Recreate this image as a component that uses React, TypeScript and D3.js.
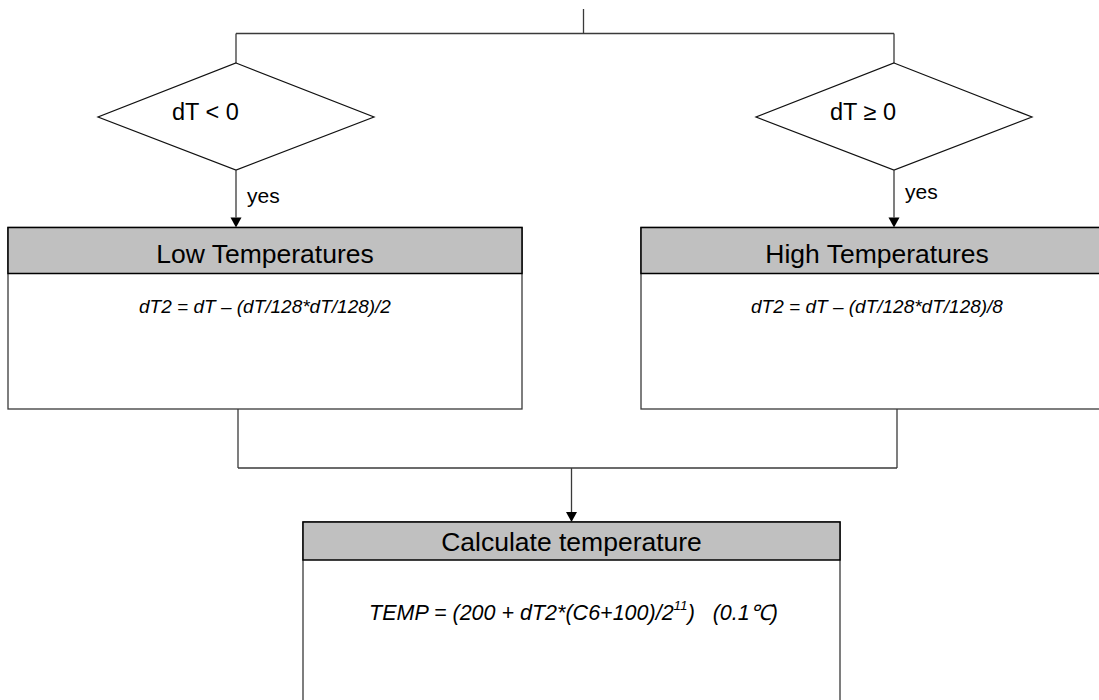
import { FC } from 'react';
import * as d3 from 'd3';

// Decision nodes (top row)
const decisionLabels = ['dT < 0', 'dT \u2265 0'];
const branchLabels = ['yes', 'yes'];

// Process nodes (middle row)
const processTitles = ['Low Temperatures', 'High Temperatures'];
const processFormulas = [
  'dT2 = dT \u2013 (dT/128*dT/128)/2',
  'dT2 = dT \u2013 (dT/128*dT/128)/8',
];

// Final node
const finalTitle = 'Calculate temperature';
const finalFormula = { main: 'TEMP = (200 + dT2*(C6+100)/2', sup: '11', tail: ')   (0.1\u2103)' };

// Layout (pixels)
const W = 1099;
const H = 700;
const layout = {
  trunkX: 583.5,
  trunkTop: 9,
  busY: 33.5,
  decisionX: [236, 894],
  decisionTextX: [172, 830],
  decisionTop: 63,
  decisionMid: 117,
  decisionBottom: 170,
  decisionHalfW: 138,
  yesY: [203, 199],
  boxX: [8, 641],
  boxW: [514, 472],
  boxTop: 227.5,
  headerH: 46,
  boxBottom: 409,
  outX: [238, 897],
  mergeY: 468,
  finalX: 303,
  finalW: 537,
  finalTop: 522,
  finalHeaderH: 38,
};

const font = '"Liberation Sans", Arial, Helvetica, sans-serif';
const lineColor = '#3a3a3a';
const headerFill = '#c0c0c0';

const Arrow: FC<{ x: number; y1: number; y2: number }> = ({ x, y1, y2 }) => {
  const head = 10;
  const half = 5.5;
  return (
    <g>
      <line x1={x} y1={y1} x2={x} y2={y2 - head} stroke={lineColor} strokeWidth={1.3} />
      <path d={`M${x - half},${y2 - head}L${x + half},${y2 - head}L${x},${y2}Z`} fill="#000" />
    </g>
  );
};

export default function App() {
  const diamond = d3.line<[number, number]>();
  const L = layout;

  return (
    <svg
      width={W}
      height={H}
      style={{ position: 'absolute', left: 0, top: 0, background: '#fff' }}
      fontFamily={font}
    >
      {/* incoming trunk and split bus */}
      <line x1={L.trunkX} y1={L.trunkTop} x2={L.trunkX} y2={L.busY} stroke={lineColor} strokeWidth={1.3} />
      <line x1={L.decisionX[0]} y1={L.busY} x2={L.decisionX[1]} y2={L.busY} stroke={lineColor} strokeWidth={1.3} />

      {decisionLabels.map((label, i) => {
        const cx = L.decisionX[i];
        const pts: [number, number][] = [
          [cx, L.decisionTop],
          [cx + L.decisionHalfW, L.decisionMid],
          [cx, L.decisionBottom],
          [cx - L.decisionHalfW, L.decisionMid],
        ];
        return (
          <g key={label}>
            <line x1={cx} y1={L.busY} x2={cx} y2={L.decisionTop} stroke={lineColor} strokeWidth={1.3} />
            <path d={diamond(pts) + 'Z'} fill="#fff" stroke="#111" strokeWidth={1.2} />
            <text x={L.decisionTextX[i]} y={L.decisionMid + 3} fontSize={23.5} fill="#000">
              {label}
            </text>
            <Arrow x={cx} y1={L.decisionBottom} y2={L.boxTop} />
            <text x={cx + 11} y={L.yesY[i]} fontSize={21} fill="#000">
              {branchLabels[i]}
            </text>
          </g>
        );
      })}

      {processTitles.map((title, i) => {
        const x = L.boxX[i];
        const w = L.boxW[i];
        const cx = x + w / 2;
        return (
          <g key={title}>
            <rect x={x} y={L.boxTop} width={w} height={L.boxBottom - L.boxTop} fill="#fff" stroke={lineColor} strokeWidth={1.3} />
            <rect x={x} y={L.boxTop} width={w} height={L.headerH} fill={headerFill} stroke="#000" strokeWidth={1.5} />
            <text x={cx} y={L.boxTop + 35} fontSize={26.5} textAnchor="middle" fill="#000">
              {title}
            </text>
            <text x={cx} y={L.boxTop + 85} fontSize={19} fontStyle="italic" textAnchor="middle" fill="#000">
              {processFormulas[i]}
            </text>
            <line x1={L.outX[i]} y1={L.boxBottom} x2={L.outX[i]} y2={L.mergeY} stroke={lineColor} strokeWidth={1.3} />
          </g>
        );
      })}

      {/* merge bus */}
      <line x1={L.outX[0]} y1={L.mergeY} x2={L.outX[1]} y2={L.mergeY} stroke={lineColor} strokeWidth={1.3} />
      <Arrow x={L.finalX + L.finalW / 2} y1={L.mergeY} y2={L.finalTop} />

      {/* final node */}
      <rect x={L.finalX} y={L.finalTop} width={L.finalW} height={H + 20 - L.finalTop} fill="#fff" stroke={lineColor} strokeWidth={1.3} />
      <rect x={L.finalX} y={L.finalTop} width={L.finalW} height={L.finalHeaderH} fill={headerFill} stroke="#000" strokeWidth={1.5} />
      <text x={L.finalX + L.finalW / 2} y={L.finalTop + 29} fontSize={26.5} textAnchor="middle" fill="#000">
        {finalTitle}
      </text>
      <text
        x={L.finalX + L.finalW / 2 + 2}
        y={L.finalTop + 98}
        fontSize={21.5}
        fontStyle="italic"
        textAnchor="middle"
        fill="#000"
        style={{ whiteSpace: 'pre' }}
      >
        {finalFormula.main}
        <tspan fontSize={13.5} dy={-10}>{finalFormula.sup}</tspan>
        <tspan dy={10}>{finalFormula.tail}</tspan>
      </text>
    </svg>
  );
}
